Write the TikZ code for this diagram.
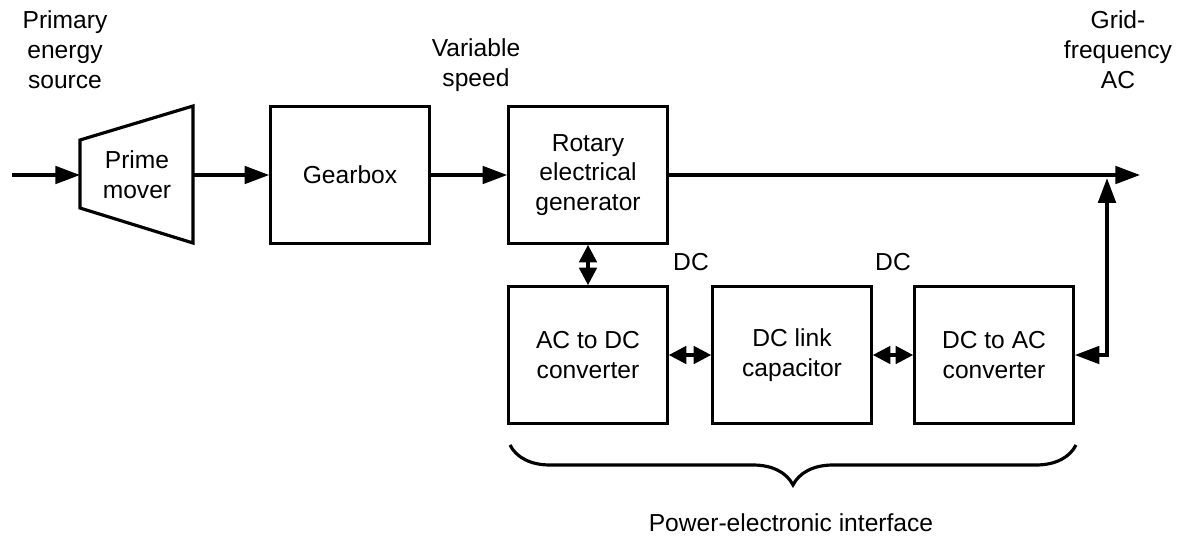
\documentclass[tikz,border=0pt]{standalone}
\usepackage{fontspec}
\setmainfont{Liberation Sans}
\usetikzlibrary{arrows.meta,decorations.pathreplacing}

\begin{document}
\begin{tikzpicture}[x=0.02cm, y=-0.02cm,
			 bloque/.style={rectangle, draw, line width=1.8pt, minimum width=3.17cm, minimum height=2.73cm, align=center, inner sep=0pt},
			 flecha/.style={line width=1.8pt, -{Triangle[length=14pt, width=10pt]}},
			 doble/.style={line width=1.8pt, {Triangle[length=10pt, width=10pt]}-{Triangle[length=10pt, width=10pt]}},
			 etiqueta/.style={align=center, inner sep=0pt},
			 font=\fontsize{14}{17}\selectfont
  		]
	\useasboundingbox (0,0) rectangle (1181,535);

	%Creamos los bloques

		\draw[line width=1.8pt] (80,140) -- (193,106) -- (193,243) -- (80,208) -- cycle;
		\coordinate (pmin) at (80,175);
		\coordinate (pmout) at (193,175);
		\node[etiqueta] (pm) at (137,175) {Prime\\mover};
		\node[bloque] (gb) at (350,175) {Gearbox};
		\node[bloque] (gen) at (588,175) {Rotary\\electrical\\generator};
		\node[bloque] (acdc) at (588,355) {AC to DC\\converter};
		\node[bloque] (link) at (792,355) {DC link\\capacitor};
		\node[bloque] (dcac) at (994,355) {DC to AC\\converter};
	%Puntos libres
		\coordinate (ent) at (12,175);
		\coordinate (sal) at (1140,175);
		\coordinate (red) at (1107,175);
	%Textos
		\node[etiqueta] (pes) at (65,50) {Primary\\energy\\source};
		\node[etiqueta] (vs) at (476,65) {Variable\\speed};
		\node[etiqueta] (gfac) at (1118,50) {Grid-\\frequency\\AC};
		\node[etiqueta] (dc1) at (691,262) {DC};
		\node[etiqueta] (dc2) at (893,262) {DC};
	%Flechas de la cadena
		\draw[flecha] (ent) -- (pmin);
		\draw[flecha] (pmout) -- (gb);
		\draw[flecha] (gb) -- (gen);
		\draw[flecha] (gen) -- (sal);
	%Flechas dobles
		\draw[doble] (gen) -- (acdc);
		\draw[doble] (acdc) -- (link);
		\draw[doble] (link) -- (dcac);
		\draw[line width=1.8pt, {Triangle[length=14pt, width=10pt]}-{Triangle[length=14pt, width=10pt]}] (dcac.east) -| ([yshift=-1.8pt]red);
	%Llave
		\draw[line width=1.8pt, decorate, decoration={brace, mirror, amplitude=0.8cm}] (510,445) -- (1076,445);
		\node[etiqueta] (pei) at (791,523) {Power-electronic interface};

\end{tikzpicture}
\end{document}
